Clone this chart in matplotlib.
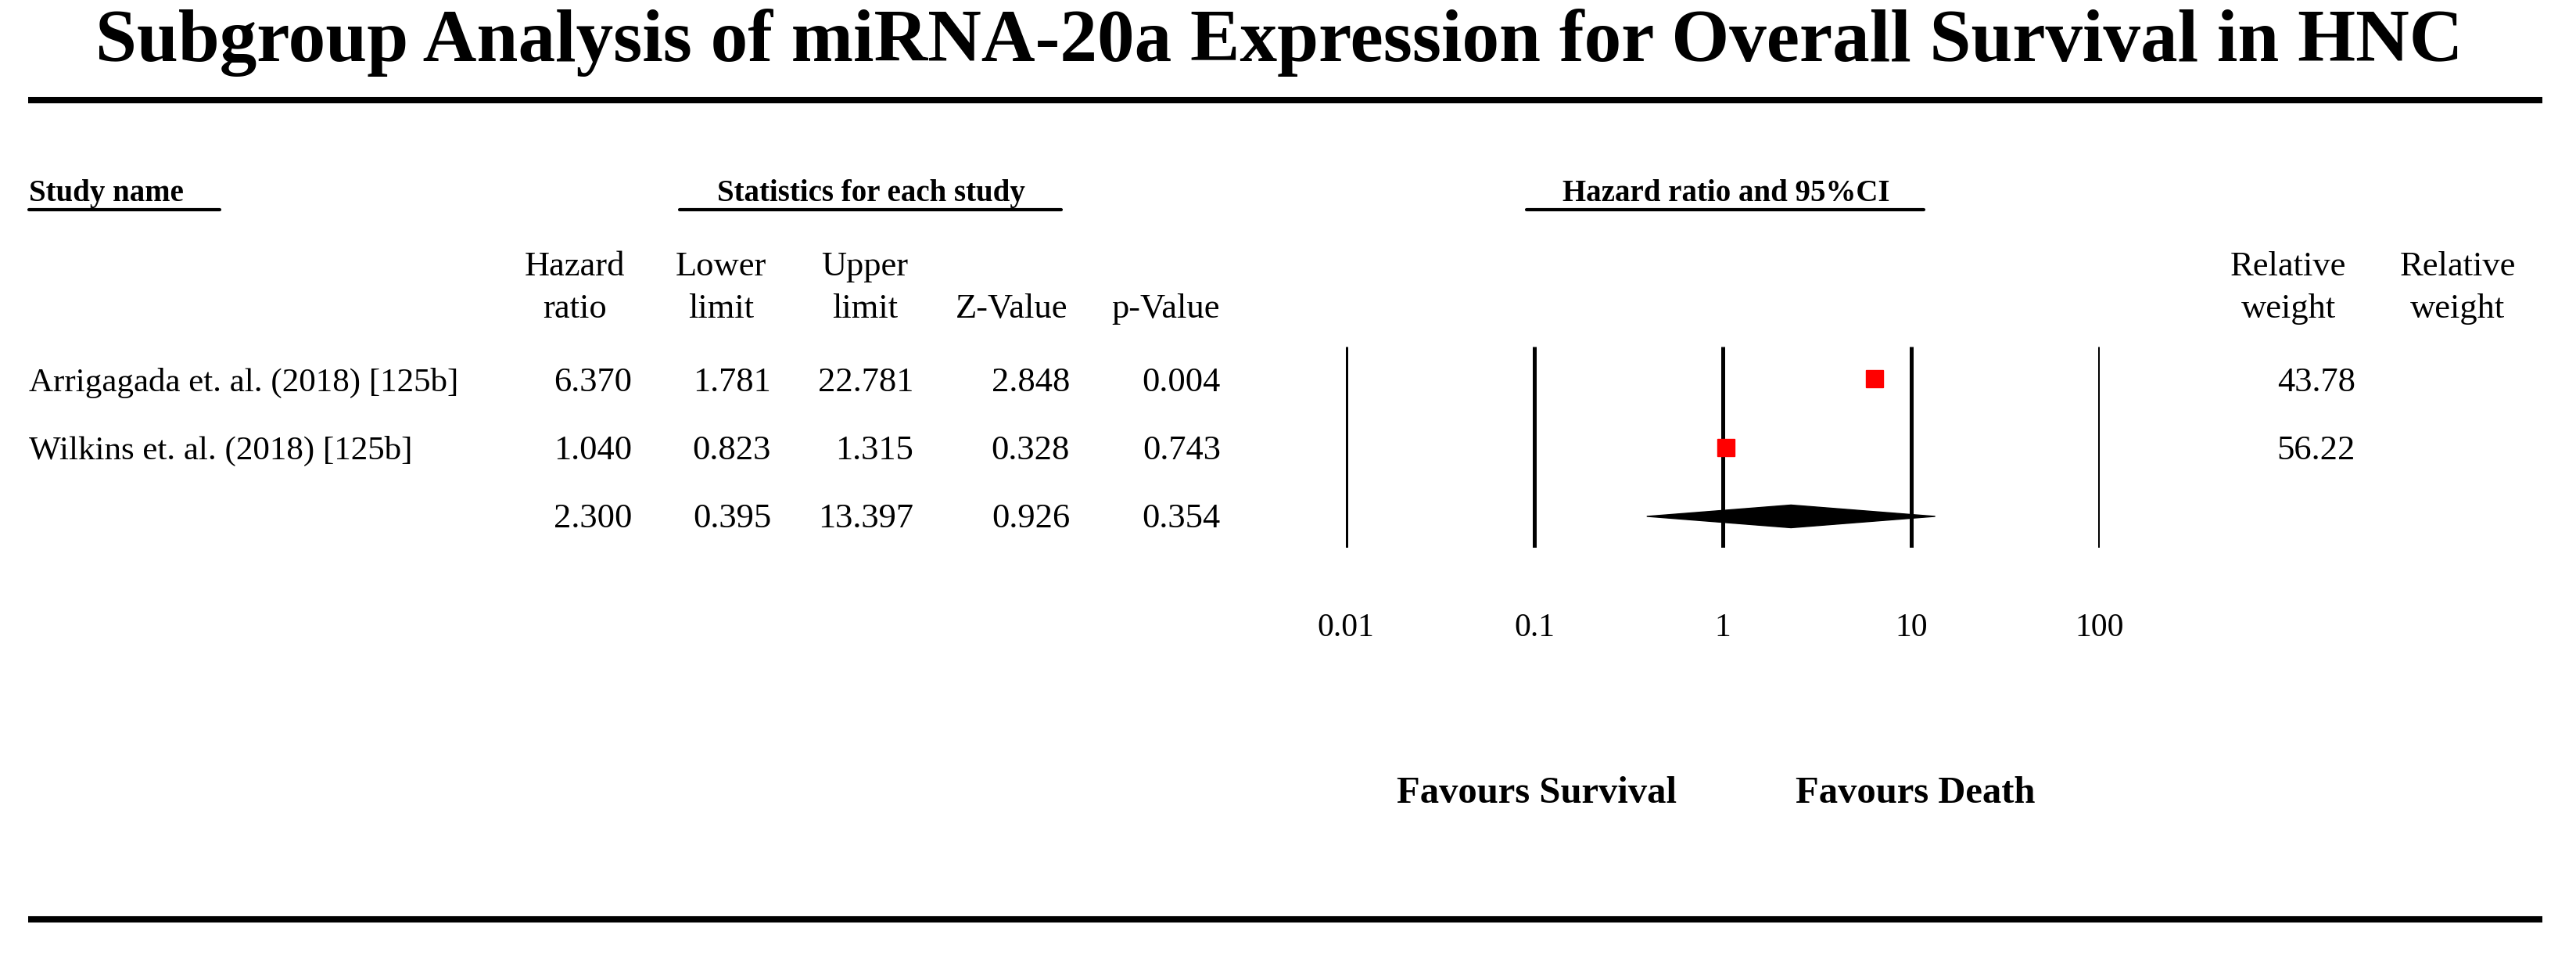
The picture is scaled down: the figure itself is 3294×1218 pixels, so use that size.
import matplotlib.pyplot as plt

plt.rcParams['font.family'] = ['Liberation Serif', 'DejaVu Serif']

# data
studies = ["Arrigagada et. al. (2018) [125b]", "Wilkins et. al. (2018) [125b]"]
hazard = [6.370, 1.040]
lower = [1.781, 0.823]
upper = [22.781, 1.315]
zval = [2.848, 0.328]
pval = [0.004, 0.743]
weight = [43.78, 56.22]
pooled_hr = 2.300
pooled_lo = 0.395
pooled_up = 13.397
pooled_z = 0.926
pooled_p = 0.354
ticks = [0.01, 0.1, 1, 10, 100]
tick_labels = ["0.01", "0.1", "1", "10", "100"]

W, H = 3294, 1218
fig = plt.figure(figsize=(W / 100, H / 100), dpi=100)

# page layer in pixel units
pg = fig.add_axes([0, 0, 1, 1])
pg.set_xlim(0, W)
pg.set_ylim(H, 0)
pg.axis('off')

fs = 32
pg.text(1636, 78, "Subgroup Analysis of miRNA-20a Expression for Overall Survival in HNC",
        ha='center', va='baseline', fontsize=68.5, fontweight='bold')
pg.plot([36, 3251], [128, 128], color='k', lw=5.8, solid_capstyle='butt')
pg.plot([36, 3251], [1175, 1175], color='k', lw=5.8, solid_capstyle='butt')

# group headers with underlines
pg.text(37, 257, "Study name", ha='left', va='baseline', fontsize=28, fontweight='bold')
pg.plot([37, 281], [268, 268], color='k', lw=3, solid_capstyle='round')
pg.text(1114, 257, "Statistics for each study", ha='center', va='baseline', fontsize=28, fontweight='bold')
pg.plot([869, 1357], [268, 268], color='k', lw=3, solid_capstyle='round')
pg.text(2207, 257, "Hazard ratio and 95%CI", ha='center', va='baseline', fontsize=28, fontweight='bold')
pg.plot([1952, 2460], [268, 268], color='k', lw=3, solid_capstyle='round')

# column headers
col_hdr = [("Hazard", "ratio", 735), ("Lower", "limit", 922), ("Upper", "limit", 1106),
           ("", "Z-Value", 1294), ("", "p-Value", 1490),
           ("Relative", "weight", 2926), ("Relative", "weight", 3143)]
for l1, l2, cx in col_hdr:
    pg.text(cx, 352, l1, ha='center', va='baseline', fontsize=fs)
    pg.text(cx, 406, l2, ha='center', va='baseline', fontsize=fs)

# table rows
row_base = [500, 587, 674]
col_right = [808, 986, 1168, 1368, 1561]
for i, name in enumerate(studies):
    pg.text(37, row_base[i], name, ha='left', va='baseline', fontsize=31)
    vals = [hazard[i], lower[i], upper[i], zval[i], pval[i]]
    for v, xr in zip(vals, col_right):
        pg.text(xr, row_base[i], "%.3f" % v, ha='right', va='baseline', fontsize=fs)
    pg.text(3012, row_base[i], "%.2f" % weight[i], ha='right', va='baseline', fontsize=fs)
for v, xr in zip([pooled_hr, pooled_lo, pooled_up, pooled_z, pooled_p], col_right):
    pg.text(xr, row_base[2], "%.3f" % v, ha='right', va='baseline', fontsize=fs)

pg.text(1965, 1026, "Favours Survival", ha='center', va='baseline', fontsize=35, fontweight='bold')
pg.text(2449, 1026, "Favours Death", ha='center', va='baseline', fontsize=35, fontweight='bold')

# forest plot
ax = fig.add_axes([1721 / W, 1 - 700 / H, 964 / W, 257 / H])
ax.patch.set_alpha(0)
ax.set_xscale('log')
ax.set_xlim(0.01, 100)
ax.set_ylim(2.455, -0.466)
for t in ticks:
    ax.axvline(t, color='k', lw=3.6, solid_capstyle='butt')
ax.plot(hazard, range(len(hazard)), 's', color='red', mec='red', ms=16.5, zorder=3)
h = 0.165
yp = len(hazard)
ax.fill([pooled_lo, pooled_hr, pooled_up, pooled_hr], [yp, yp - h, yp, yp + h],
        color='k', lw=1, zorder=3)
ax.set_xticks(ticks, tick_labels, fontsize=30)
ax.minorticks_off()
ax.tick_params(axis='x', length=0, pad=60)
ax.set_yticks([])
for s in ax.spines.values():
    s.set_visible(False)

fig.savefig("out.png", dpi=100)
